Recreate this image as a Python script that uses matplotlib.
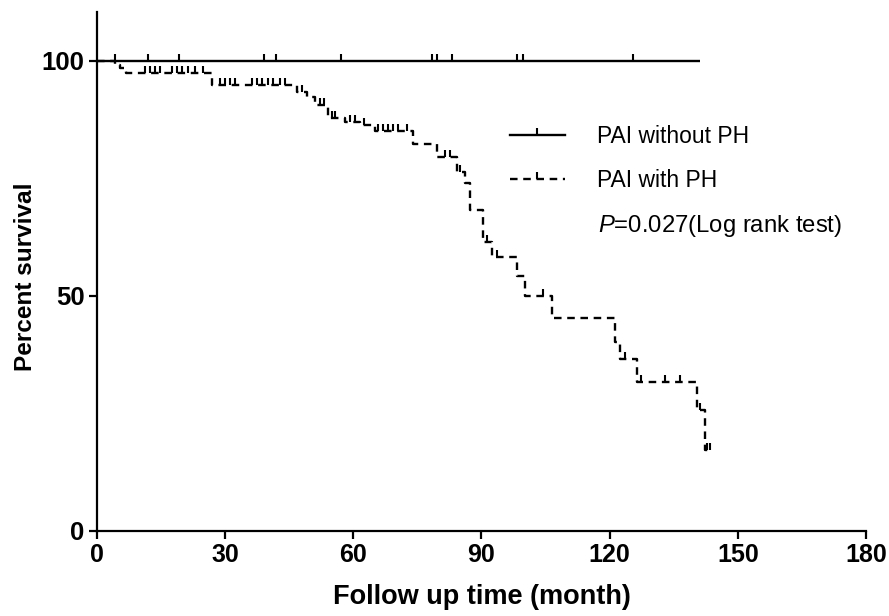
import numpy as np
import matplotlib
matplotlib.use("Agg")
import matplotlib.pyplot as plt
from matplotlib.lines import Line2D
from matplotlib.markers import TICKUP

plt.rcParams['font.family'] = ['Liberation Sans', 'DejaVu Sans']
plt.rcParams['mathtext.fontset'] = 'custom'
plt.rcParams['mathtext.it'] = 'Liberation Sans:italic'
plt.rcParams['mathtext.rm'] = 'Liberation Sans'

# ---- data ----
# PAI without PH: no events, censored observations only
nph_end = 141.2
nph_censor = [4.2, 11.9, 19.2, 39.1, 41.9, 57.1, 78.4, 79.6, 83.1, 98.3, 99.7, 125.5]

# PAI with PH: event times (month) and survival (%) after each event
ph_event_time = [4.2, 5.4, 6.8, 26.9, 46.8, 49.2, 51.0, 54.0, 58.0, 61.5, 65.0,
                 74.0, 79.6, 84.3, 86.1, 87.3, 90.4, 92.5, 98.3, 100.2, 106.5,
                 121.3, 122.4, 126.4, 140.4, 142.3]
ph_surv = [99.2, 98.4, 97.4, 94.9, 93.4, 92.3, 90.6, 87.9, 87.0, 86.4, 85.0,
           82.3, 79.6, 76.4, 74.0, 68.3, 61.5, 58.3, 54.2, 49.9, 45.4,
           40.3, 36.5, 31.8, 25.8, 17.3]
ph_end = 143.5
ph_censor = [11.2, 12.4, 13.6, 14.7, 17.6, 18.7, 19.9, 21.3, 22.9, 24.8,
             28.8, 30.0, 31.1, 32.3, 36.3, 37.5, 38.6, 40.0, 41.2, 42.8, 44.0,
             48.0, 52.2, 53.2, 54.9, 55.6, 59.2, 60.3, 62.5, 65.8, 67.0, 68.2,
             69.4, 70.5, 72.5, 81.5, 82.6, 85.0, 91.3, 93.6, 104.4, 123.6,
             127.3, 133.0, 136.5, 141.2, 142.8, 143.5]

x_ticks = [0, 30, 60, 90, 120, 150, 180]
y_ticks = [0, 50, 100]

# ---- figure ----
fig = plt.figure(figsize=(8.89, 6.16), dpi=100)
ax = fig.add_axes([0.1091, 0.138, 0.8650, 0.8425])

lw = 1.7
dash = (3.2, 2.4)

# solid curve
ax.plot([0, nph_end], [100, 100], color='black', lw=lw, solid_capstyle='butt')
ax.plot(nph_censor, [100] * len(nph_censor), ls='none', marker=TICKUP,
        color='black', markersize=5, markeredgewidth=1.5)

# dashed step curve
t = np.concatenate([[0], ph_event_time, [ph_end]])
s = np.concatenate([[100], ph_surv, [ph_surv[-1]]])
ax.step(t, s, where='post', color='black', lw=lw, linestyle=(0, dash))
idx = np.searchsorted(t, ph_censor, side='right') - 1
ax.plot(ph_censor, s[idx], ls='none', marker=TICKUP, color='black',
        markersize=5, markeredgewidth=1.5)

ax.set_xlim(0, 180)
ax.set_ylim(0, 110.4)
ax.set_xticks(x_ticks)
ax.set_yticks(y_ticks)
ax.set_xticklabels([str(v) for v in x_ticks], fontsize=18, fontweight='bold')
ax.set_yticklabels([str(v) for v in y_ticks], fontsize=18.5, fontweight='bold')
ax.tick_params(direction='out', length=6, width=1.6, pad=3)
for side in ['top', 'right']:
    ax.spines[side].set_visible(False)
for side in ['left', 'bottom']:
    ax.spines[side].set_linewidth(1.6)

ax.set_xlabel('Follow up time (month)', fontsize=19.5, fontweight='bold', labelpad=12)
ax.set_ylabel('Percent survival', fontsize=17.6, fontweight='bold')
ax.yaxis.set_label_coords(-0.078, 0.49)

h1 = Line2D([], [], color='black', lw=lw, marker=TICKUP, markersize=5, markeredgewidth=1.5)
h2 = Line2D([], [], color='black', lw=lw, linestyle=(0, dash), marker=TICKUP,
            markersize=5, markeredgewidth=1.5)
ax.legend([h1, h2], ['PAI without PH', 'PAI with PH'], loc='upper left',
          bbox_to_anchor=(0.537, 0.783), frameon=False, fontsize=16.5,
          handlelength=2.4, handletextpad=1.4, labelspacing=0.95,
          borderpad=0, borderaxespad=0, numpoints=1)

ax.text(0.652, 0.588, r'$\mathit{P}$=0.027(Log rank test)', transform=ax.transAxes,
        fontsize=17.2, ha='left', va='center')

fig.savefig('out.png', dpi=100)
